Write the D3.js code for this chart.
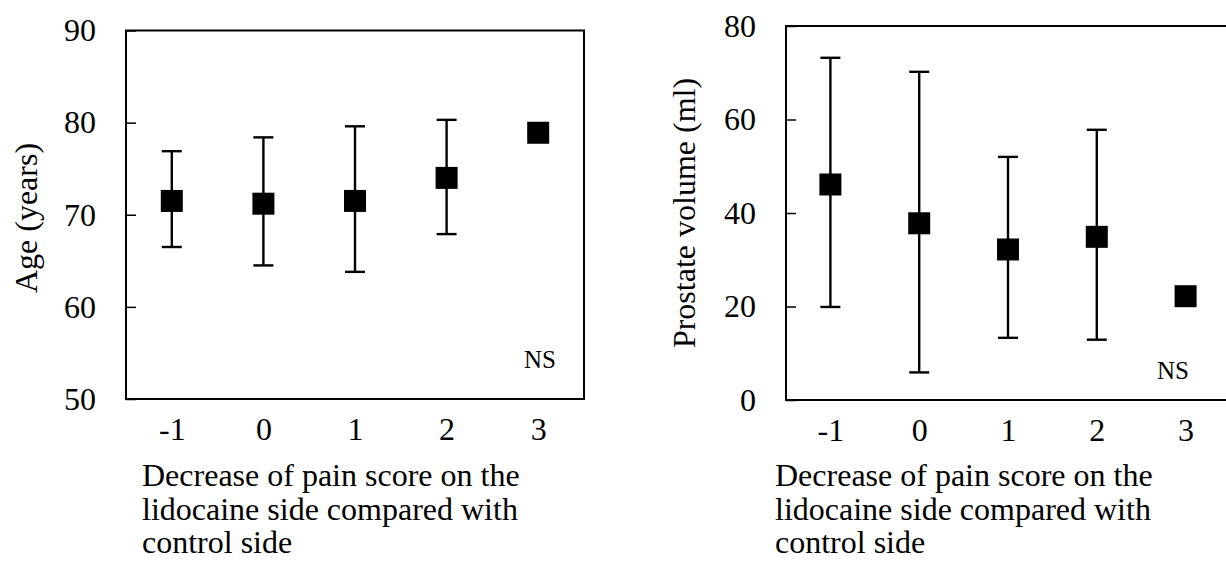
<!DOCTYPE html>
<html>
<head>
<meta charset="utf-8">
<script src="https://cdn.jsdelivr.net/npm/d3@7"></script>
<style>
body{margin:0;background:#fff;}
text{font-family:"Liberation Serif","Times New Roman",serif;fill:#000;}
</style>
</head>
<body>
<svg id="chart" width="1226" height="561"></svg>
<script>
// decrease of pain score (x categories)
var scores = [-1, 0, 1, 2, 3];

// left panel: age
var ageMean = [71.5, 71.2, 71.5, 74.0, 78.9];
var ageHigh = [76.9, 78.4, 79.6, 80.3, null];
var ageLow  = [66.5, 64.5, 63.8, 67.9, null];
var ageTicks = [50, 60, 70, 80, 90];

// right panel: prostate volume
var volMean = [46.1, 37.8, 32.2, 34.9, 22.2];
var volHigh = [73.2, 70.2, 52.0, 57.8, null];
var volLow  = [19.9, 5.9, 13.3, 12.9, null];
var volTicks = [0, 20, 40, 60, 80];

var xTitle = ["Decrease of pain score on the", "lidocaine side compared with", "control side"];

var svg = d3.select('#chart');
svg.append('rect').attr('width',1226).attr('height',561).attr('fill','#fff');

function drawPanel(p){
	var x = d3.scaleLinear().domain([-1.5, 3.5]).range([p.left, p.right]);
	var y = d3.scaleLinear().domain(p.yDomain).range([p.bottom, p.top]);
	var g = svg.append('g');

	var pts = scores.map(function(s,i){
		return {x:s, m:p.mean[i], hi:p.high[i], lo:p.low[i]};
	});

	// frame; the right panel is cut off so its right side is left open
	var frame = d3.path();
	frame.moveTo(p.right, p.top);
	frame.lineTo(p.left, p.top);
	frame.lineTo(p.left, p.bottom);
	frame.lineTo(p.right, p.bottom);
	if(!p.openRight){ frame.closePath(); }
	g.append('path')
		.attr('d',frame.toString())
		.attr('fill','none').attr('stroke','#000').attr('stroke-width',2);

	// y axis, ticks pointing inward
	var ya = g.append('g')
		.attr('transform','translate('+p.left+',0)')
		.call(d3.axisLeft(y).tickValues(p.ticks).tickSize(-10).tickPadding(30).tickFormat(String));
	ya.select('.domain').remove();
	ya.selectAll('.tick line').attr('stroke','#000').attr('stroke-width',1.5);
	ya.selectAll('text').attr('font-size',32).attr('font-family',null);

	// x axis, labels only
	var xa = g.append('g')
		.attr('transform','translate(0,'+p.bottom+')')
		.call(d3.axisBottom(x).tickValues(scores).tickSize(0).tickPadding(18).tickFormat(String));
	xa.select('.domain').remove();
	xa.selectAll('text').attr('font-size',32).attr('font-family',null);

	// error bars
	var bars = pts.filter(function(d){ return d.hi != null; });
	g.selectAll('.eb').data(bars).enter().append('line')
		.attr('x1',function(d){ return x(d.x); }).attr('x2',function(d){ return x(d.x); })
		.attr('y1',function(d){ return y(d.hi); }).attr('y2',function(d){ return y(d.lo); })
		.attr('stroke','#000').attr('stroke-width',2.4);
	['hi','lo'].forEach(function(k){
		g.selectAll('.cap'+k).data(bars).enter().append('line')
			.attr('x1',function(d){ return x(d.x)-10; }).attr('x2',function(d){ return x(d.x)+10; })
			.attr('y1',function(d){ return y(d[k]); }).attr('y2',function(d){ return y(d[k]); })
			.attr('stroke','#000').attr('stroke-width',2.4);
	});

	// square markers
	g.selectAll('.pt').data(pts).enter().append('rect')
		.attr('x',function(d){ return x(d.x)-11; })
		.attr('y',function(d){ return y(d.m)-11; })
		.attr('width',22).attr('height',22)
		.attr('fill','#000');

	g.append('text')
		.attr('x',p.nsX).attr('y',p.nsY)
		.attr('text-anchor','middle').attr('font-size',25)
		.text('NS');

	// y title
	g.append('text')
		.attr('transform','translate('+p.yTitleX+','+p.yTitleY+') rotate(-90)')
		.attr('text-anchor','middle').attr('font-size',32)
		.text(p.yTitle);

	// x title
	var xt = g.append('text').attr('font-size',32);
	xTitle.forEach(function(line,i){
		xt.append('tspan').attr('x',p.xTitleX).attr('y',486+i*33.5).text(line);
	});
}

drawPanel({
	left:126, right:584, top:30.5, bottom:399,
	yDomain:[50,90], ticks:ageTicks,
	mean:ageMean, high:ageHigh, low:ageLow,
	nsX:540, nsY:368,
	yTitle:'Age (years)', yTitleX:37, yTitleY:218,
	xTitleX:142
});

drawPanel({
	left:786, right:1230, top:26, bottom:400, openRight:true,
	yDomain:[0,80], ticks:volTicks,
	mean:volMean, high:volHigh, low:volLow,
	nsX:1173, nsY:379,
	yTitle:'Prostate volume (ml)', yTitleX:695, yTitleY:213,
	xTitleX:775
});
</script>
</body>
</html>
